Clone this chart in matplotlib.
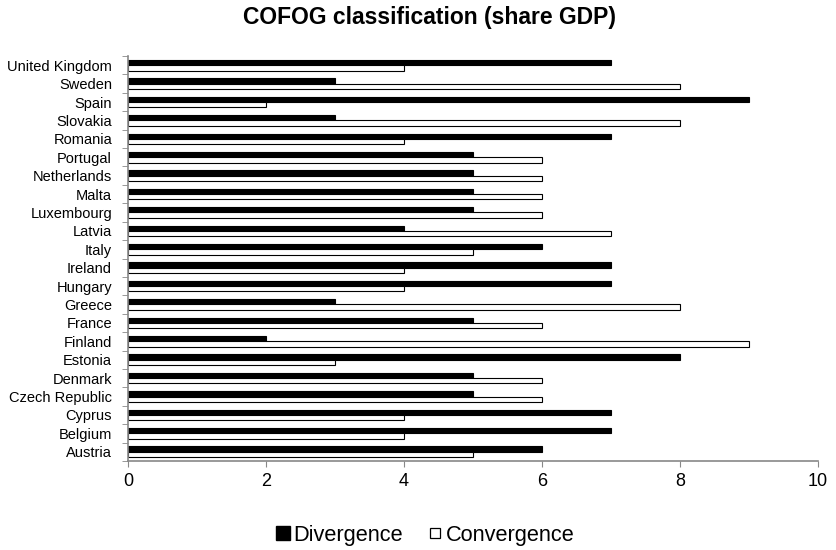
import numpy as np
import matplotlib.pyplot as plt
from matplotlib.lines import Line2D

countries = ["Austria", "Belgium", "Cyprus", "Czech Republic", "Denmark", "Estonia",
             "Finland", "France", "Greece", "Hungary", "Ireland", "Italy", "Latvia",
             "Luxembourg", "Malta", "Netherlands", "Portugal", "Romania", "Slovakia",
             "Spain", "Sweden", "United Kingdom"]
divergence = [6, 7, 7, 5, 5, 8, 2, 5, 3, 7, 7, 6, 4, 5, 5, 5, 5, 7, 3, 9, 3, 7]
convergence = [5, 4, 4, 6, 6, 3, 9, 6, 8, 4, 4, 5, 7, 6, 6, 6, 6, 4, 8, 2, 8, 4]

plt.rcParams['font.family'] = ['Liberation Sans', 'DejaVu Sans']

fig = plt.figure(figsize=(8.37, 5.5), dpi=100)
ax = fig.add_axes([0.153, 0.162, 0.824, 0.736])

y = np.arange(len(countries))
h = 0.29
ax.barh(y + h / 2, divergence, height=h, color='black', edgecolor='black', linewidth=0.8)
ax.barh(y - h / 2, convergence, height=h, color='white', edgecolor='black', linewidth=0.8)

ax.set_xlim(0, 10)
ax.set_ylim(-0.5, len(countries) - 0.5)
ax.set_xticks(range(0, 11, 2))
ax.tick_params(axis='x', labelsize=13, length=4, color='#888888', pad=5)
ax.set_yticks(y)
ax.set_yticklabels(countries, fontsize=10.5)
ax.tick_params(axis='y', length=0, pad=11.5)
ax.set_yticks(np.arange(-0.5, len(countries), 1), minor=True)
ax.tick_params(axis='y', which='minor', length=4, color='#888888')

for s in ['top', 'right']:
    ax.spines[s].set_visible(False)
for s in ['left', 'bottom']:
    ax.spines[s].set_color('#888888')
    ax.spines[s].set_linewidth(1.2)

fig.text(0.513, 0.969, 'COFOG classification (share GDP)', fontsize=16.5, fontweight='bold',
         ha='center', va='center')

handles = [Line2D([], [], linestyle='none', marker='s', markersize=10,
                  markerfacecolor='black', markeredgecolor='black'),
           Line2D([], [], linestyle='none', marker='s', markersize=7,
                  markerfacecolor='white', markeredgecolor='black', markeredgewidth=0.9)]
fig.legend(handles, ['Divergence', 'Convergence'], loc='center', bbox_to_anchor=(0.508, 0.027),
           ncol=2, frameon=False, fontsize=15.7, handlelength=0.65, handletextpad=0.15,
           columnspacing=1.15, borderpad=0.2)

fig.savefig('out.png', dpi=100)
